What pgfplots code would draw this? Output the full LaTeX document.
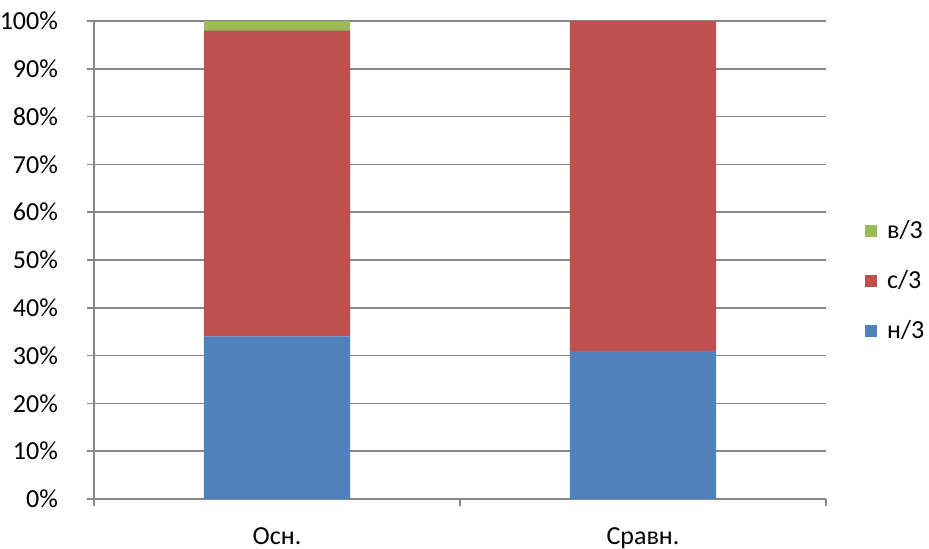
\documentclass[border=0pt]{standalone}
\usepackage{fontspec}
\setmainfont{Carlito}
\usepackage{pgfplots}
\pgfplotsset{compat=1.18}
\definecolor{cblue}{HTML}{4F81BD}
\definecolor{cred}{HTML}{C0504D}
\definecolor{cgreen}{HTML}{9BBB59}
\definecolor{gridc}{HTML}{878787}
\begin{document}
\fontsize{13}{15}\selectfont
\begin{tikzpicture}
\useasboundingbox (-47pt,-25pt) rectangle (417.5pt,249.5pt);
\begin{axis}[
  scale only axis,
  width=366pt, height=239pt,
  at={(0,0)}, anchor=south west,
  ybar stacked,
  bar width=0.4,
  xmin=-0.5, xmax=1.5,
  ymin=0, ymax=100,
  axis lines*=left,
  axis line style={gridc, line width=0.8pt},
  tick align=outside,
  ytick={0,10,...,100},
  yticklabels={0\%,10\%,20\%,30\%,40\%,50\%,60\%,70\%,80\%,90\%,100\%},
  yticklabel style={font=\fontsize{13}{15}\selectfont, xshift=-10pt},
  ymajorgrids,
  grid style={gridc, line width=0.8pt},
  major tick length=3.5pt,
  tick style={gridc, line width=0.8pt},
  xtick={-0.5,0.5,1.5},
  xticklabels={},
  extra x ticks={0,1},
  extra x tick labels={Осн.,Сравн.},
  extra x tick style={major tick length=0pt, grid=none,
    ticklabel style={font=\fontsize{13}{15}\selectfont, yshift=-10pt}},
  legend style={draw=none, fill=none, at={(1.053,0.456)}, anchor=west,
    font=\fontsize{13}{15}\selectfont, row sep=10pt, inner sep=0pt,
    /tikz/every odd column/.style={column sep=3pt}},
  legend cell align=left,
  reverse legend,
  legend image code/.code={\fill[#1,draw=none] (0pt,-3pt) rectangle (6pt,3pt);},
]
\addplot[fill=cblue, draw=none] coordinates {(0,34) (1,31)};
\addplot[fill=cred, draw=none] coordinates {(0,64) (1,69)};
\addplot[fill=cgreen, draw=none] coordinates {(0,2) (1,0)};
\legend{н/3,с/3,в/3}
\end{axis}
\end{tikzpicture}
\end{document}
